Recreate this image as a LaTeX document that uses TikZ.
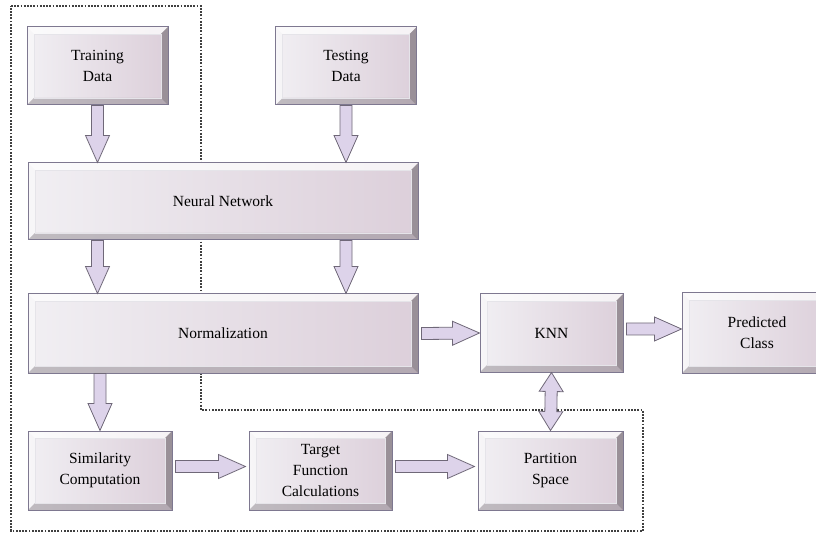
\documentclass[tikz,border=0pt]{standalone}
\usepackage{fontspec}
\setmainfont{Liberation Serif}
\usetikzlibrary{calc}
\definecolor{boxedge}{HTML}{7E7890}
\definecolor{boxleft}{HTML}{F1EFF3}
\definecolor{boxright}{HTML}{DCCFDA}
\definecolor{arfill}{HTML}{DDD3EA}
\definecolor{aredge}{HTML}{6F6878}
% fat block arrow from #1 to #2
\newcommand{\fatarrow}[2]{\draw[fatar] let \p1=(#1), \p2=(#2), \n1={atan2(\y2-\y1,\x2-\x1)} in
	($(\p1)+(\n1+90:6pt)$) -- ($(\p2)+(\n1+180:27pt)+(\n1+90:6pt)$) -- ($(\p2)+(\n1+180:27pt)+(\n1+90:12pt)$)
	-- (\p2) -- ($(\p2)+(\n1+180:27pt)+(\n1-90:12pt)$) -- ($(\p2)+(\n1+180:27pt)+(\n1-90:6pt)$)
	-- ($(\p1)+(\n1-90:6pt)$) -- cycle}
% same, with a head at both ends
\newcommand{\fatdarrow}[2]{\draw[fatar] let \p1=(#1), \p2=(#2), \n1={atan2(\y2-\y1,\x2-\x1)} in
	($(\p1)+(\n1:19pt)+(\n1+90:6pt)$) -- ($(\p2)+(\n1+180:19pt)+(\n1+90:6pt)$) -- ($(\p2)+(\n1+180:19pt)+(\n1+90:12pt)$)
	-- (\p2) -- ($(\p2)+(\n1+180:19pt)+(\n1-90:12pt)$) -- ($(\p2)+(\n1+180:19pt)+(\n1-90:6pt)$)
	-- ($(\p1)+(\n1:19pt)+(\n1-90:6pt)$) -- ($(\p1)+(\n1:19pt)+(\n1-90:12pt)$)
	-- (\p1) -- ($(\p1)+(\n1:19pt)+(\n1+90:12pt)$) -- cycle}
\tikzset{
	fatar/.style={fill=arfill,draw=aredge,line width=.8pt,line join=miter},
	bevel/.style={path picture={
		\coordinate (bvsw) at (path picture bounding box.south west);
		\coordinate (bvne) at (path picture bounding box.north east);
		\coordinate (bvnw) at (path picture bounding box.north west);
		\coordinate (bvse) at (path picture bounding box.south east);
		\fill[white,opacity=.75] (bvnw) -- (bvne) -- ([shift={(-7pt,-7pt)}]bvne) -- ([shift={(7pt,-7pt)}]bvnw) -- cycle;
		\fill[white,opacity=.45] (bvnw) -- (bvsw) -- ([shift={(7pt,7pt)}]bvsw) -- ([shift={(7pt,-7pt)}]bvnw) -- cycle;
		\fill[black!40!boxright,opacity=.45] (bvsw) -- (bvse) -- ([shift={(-7pt,7pt)}]bvse) -- ([shift={(7pt,7pt)}]bvsw) -- cycle;
		\fill[black!55!boxright,opacity=.55] (bvne) -- (bvse) -- ([shift={(-7pt,7pt)}]bvse) -- ([shift={(-7pt,-7pt)}]bvne) -- cycle;
		\draw[white!80!boxedge,line width=.5pt] ([shift={(7pt,7pt)}]bvsw) rectangle ([shift={(-7pt,-7pt)}]bvne);}},
	blk/.style={draw=boxedge,line width=1pt,left color=boxleft,right color=boxright,bevel,
		align=center,inner sep=0pt,font=\rmfamily\fontsize{15.5}{21}\selectfont},
	dotline/.style={draw=black!75,line width=1.1pt,dash pattern=on 1.8pt off 1.4pt}
}
\begin{document}
\begin{tikzpicture}[x=1pt,y=-1pt]
	\useasboundingbox (0,0) rectangle (816,534);
	\draw[dotline] (11,6) -- (201,6) -- (201,410) -- (643,410) -- (643,531) -- (11,531) -- cycle;

	\node[blk,minimum width=141,minimum height=78] (train) at (97.5,66) {Training\\Data};
	\node[blk,minimum width=141,minimum height=78] (test) at (346,66) {Testing\\Data};
	\node[blk,minimum width=390,minimum height=77] (nn) at (223,201.5) {Neural Network};
	\node[blk,minimum width=390,minimum height=79] (norm) at (223,333.5) {Normalization};
	\node[blk,minimum width=143,minimum height=78] (knn) at (551.5,333) {KNN};
	\node[blk,minimum width=150,minimum height=80] (pred) at (757,333) {Predicted\\Class};
	\node[blk,minimum width=144,minimum height=79] (sim) at (100,470.5) {Similarity\\Computation};
	\node[blk,minimum width=143,minimum height=79] (target) at (320.5,470.5) {Target\\Function\\Calculations};
	\node[blk,minimum width=145,minimum height=79] (part) at (550.5,470.5) {Partition\\Space};

	\fatarrow{train.south}{train.south |- nn.north};
	\fatarrow{test.south}{test.south |- nn.north};
	\fatarrow{nn.south -| train.south}{norm.north -| train.south};
	\fatarrow{nn.south -| test.south}{norm.north -| test.south};
	\fatarrow{norm.south -| sim.north}{sim.north};
	\fatarrow{$(sim.east)+(3,-4)$}{$(target.west)+(-3,-4)$};
	\fatarrow{$(target.east)+(3,-4)$}{$(part.west)+(-3,-4)$};
	\fatarrow{$(norm.east)+(3,0)$}{knn.west};
	\fatarrow{$(knn.east)+(3,-4)$}{$(pred.west)+(0,-4)$};
	\fatdarrow{knn.south}{part.north};
\end{tikzpicture}
\end{document}
